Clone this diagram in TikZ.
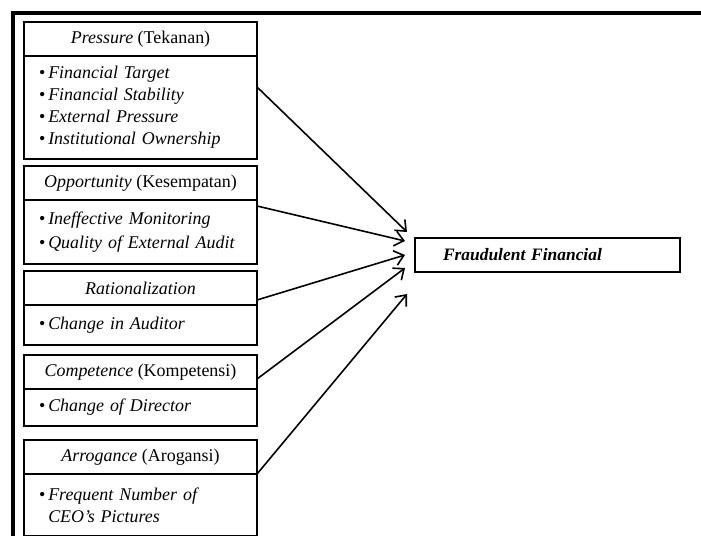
\documentclass[tikz,border=0pt]{standalone}
\usepackage{fontspec}
\setmainfont{Liberation Serif}
\usepackage{tikz}
\usetikzlibrary{positioning, arrows.meta}
\tikzstyle{head} = [rectangle, draw=black, line width=1.5bp, outer sep=0pt, inner sep=0pt, minimum width=233bp, minimum height=34bp, text centered, font=\fontsize{18}{22}\selectfont]
\tikzstyle{body} = [rectangle, draw=black, line width=1.5bp, outer sep=0pt, inner xsep=15bp, inner ysep=0pt, text width=203bp, align=left, font=\fontsize{18}{22}\selectfont]
\tikzstyle{result} = [rectangle, draw=black, line width=1.5bp, outer sep=0pt, inner xsep=28bp, inner ysep=0pt, text width=209bp, minimum height=34bp, align=left, font=\fontsize{17.5}{22}\selectfont\bfseries\itshape]
\tikzstyle{arrow} = [line width=1.6bp, -{Straight Barb[length=9bp,width=15bp]}]

\begin{document}
\begin{tikzpicture}[x=1bp, y=-1bp]
\useasboundingbox (0,0) rectangle (701,536);
\draw[line width=3.5bp] (13,536) -- (13,13) -- (701,13);
\node (pressH)[head, anchor=north west] at (24,22) {\textit{Pressure} (Tekanan)};
\node (pressB)[body, minimum height=103bp, below=0pt of pressH]{\textbullet\,\textit{Financial Target}\\ \textbullet\,\textit{Financial Stability}\\ \textbullet\,\textit{External Pressure}\\ \textbullet\,\textit{Institutional Ownership}};
\node (oppH)[head, below=7bp of pressB]{\textit{Opportunity} (Kesempatan)};
\node (oppB)[body, minimum height=64bp, below=0pt of oppH]{\textbullet\,\textit{Ineffective Monitoring}\\[2bp] \textbullet\,\textit{Quality of External Audit}};
\node (ratH)[head, below=7bp of oppB]{\textit{Rationalization}};
\node (ratB)[body, minimum height=40bp, below=0pt of ratH]{\textbullet\,\textit{Change in Auditor}};
\node (compH)[head, below=10bp of ratB]{\textit{Competence} (Kompetensi)};
\node (compB)[body, minimum height=37bp, below=0pt of compH]{\textbullet\,\textit{Change of Director}};
\node (arrH)[head, below=14bp of compB]{\textit{Arrogance} (Arogansi)};
\node (arrB)[body, minimum height=62bp, below=0pt of arrH]{\textbullet\,\textit{Frequent Number of}\\ \phantom{\textbullet\,}\textit{CEO's Pictures}};
\node (fraud)[result, anchor=west] at (415,255) {Fraudulent Financial};
\draw [arrow] ([yshift=-31bp]pressB.north east) -- ([xshift=-8bp,yshift=23bp]fraud.west);
\draw [arrow] ([yshift=-6bp]oppB.north east) -- ([xshift=-10bp,yshift=14bp]fraud.west);
\draw [arrow] ([yshift=5bp]ratH.south east) -- ([xshift=-10bp]fraud.west);
\draw [arrow] ([yshift=10bp]compH.south east) -- ([xshift=-10bp,yshift=-13bp]fraud.west);
\draw [arrow] (arrH.south east) -- ([xshift=-8bp,yshift=-39bp]fraud.west);
\end{tikzpicture}
\end{document}
